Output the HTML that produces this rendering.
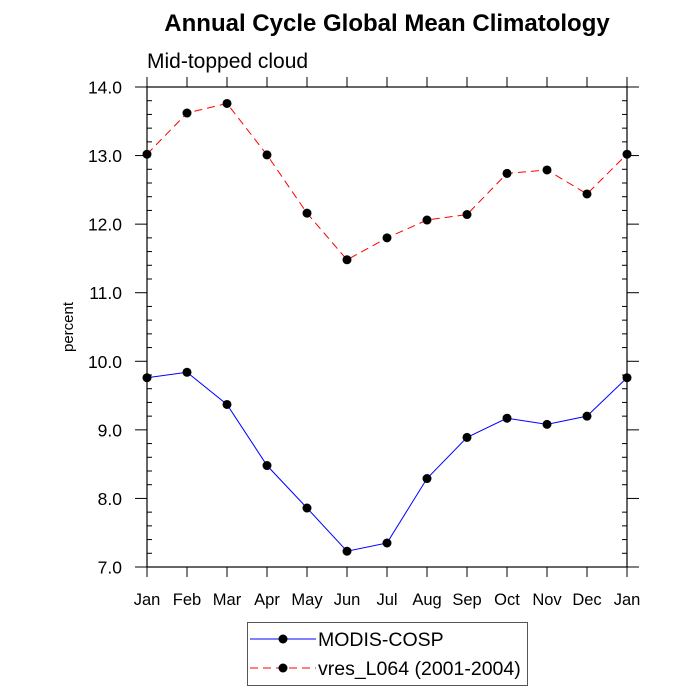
<!DOCTYPE html>
<html><head><meta charset="utf-8"><style>
body{margin:0;background:#fff}
svg{display:block;font-family:"Liberation Sans",sans-serif}
</style></head><body>
<svg id="c" width="700" height="700">
<text x="387" y="31" text-anchor="middle" font-size="24" font-weight="bold">Annual Cycle Global Mean Climatology</text>
<text x="147" y="68" font-size="21">Mid-topped cloud</text>
<text transform="translate(73,327) rotate(-90)" text-anchor="middle" font-size="15">percent</text>
<g id="axes"></g>
<g id="marks"></g>
<g>
<rect x="247.5" y="622.5" width="280" height="63" fill="#fff" stroke="#555"/>
<g>
<line x1="250" y1="639" x2="316" y2="639" stroke="#00f" stroke-width="1"/>
<circle cx="283" cy="639" r="4.5" fill="#000"/>
<text x="318" y="646" font-size="19.5">MODIS-COSP</text></g>
<g>
<line x1="250" y1="668" x2="316" y2="668" stroke="#f00" stroke-width="1" stroke-dasharray="8,5"/>
<circle cx="283" cy="668" r="4.5" fill="#000"/>
<text x="318" y="675" font-size="19.5">vres_L064 (2001-2004)</text></g>
</g>
</svg>
<script>
const months=["Jan","Feb","Mar","Apr","May","Jun","Jul","Aug","Sep","Oct","Nov","Dec","Jan"];
const modis=[9.76,9.84,9.37,8.48,7.86,7.23,7.35,8.29,8.89,9.17,9.08,9.20,9.76];
const vres=[13.02,13.62,13.76,13.01,12.16,11.48,11.80,12.06,12.14,12.74,12.79,12.44,13.02];
const yTicks=["7.0","8.0","9.0","10.0","11.0","12.0","13.0","14.0"];
const X0=147,X1=627,Y0=567,Y1=87,YMIN=7,YMAX=14;
const xs=i=>X0+(X1-X0)*i/(months.length-1);
const ys=v=>Y0-(Y0-Y1)*(v-YMIN)/(YMAX-YMIN);
const NS="http://www.w3.org/2000/svg";
function mk(p,t,a){const e=document.createElementNS(NS,t);for(const k in a)e.setAttribute(k,a[k]);p.appendChild(e);return e;}
const ax=document.getElementById('axes'),mg=document.getElementById('marks');
const frame=mk(ax,'rect',{x:X0,y:Y1,width:X1-X0,height:Y0-Y1,fill:'none',stroke:'#000','stroke-width':1.2});


months.forEach((m,i)=>{const x=xs(i);
mk(ax,'line',{x1:x,y1:Y0,x2:x,y2:Y0+10,stroke:'#000'});
mk(ax,'line',{x1:x,y1:Y1,x2:x,y2:Y1-10,stroke:'#000'});
const t=mk(ax,'text',{x:x,y:Y0+38,'text-anchor':'middle','font-size':16.5});t.textContent=m;

});
yTicks.forEach(s=>{const v=parseFloat(s),y=ys(v);
mk(ax,'line',{x1:X0-12,y1:y,x2:X0,y2:y,stroke:'#000'});
mk(ax,'line',{x1:X1,y1:y,x2:X1+12,y2:y,stroke:'#000'});
const t=mk(ax,'text',{x:X0-25,y:y+6.5,'text-anchor':'end','font-size':17.5});t.textContent=s;


if(v<YMAX)for(let k=1;k<5;k++){const yy=ys(v+k*0.2);
mk(ax,'line',{x1:X0,y1:yy,x2:X0+5,y2:yy,stroke:'#000'});
mk(ax,'line',{x1:X1-5,y1:yy,x2:X1,y2:yy,stroke:'#000'});}});
function series(d,col,dash,name){
const pl=mk(mg,'polyline',{points:d.map((v,i)=>xs(i)+','+ys(v)).join(' '),fill:'none',stroke:col,'stroke-width':1,'stroke-dasharray':dash});


d.forEach((v,i)=>{const c=mk(mg,'circle',{cx:xs(i),cy:ys(v),r:4.5,fill:'#000'});

});}
series(vres,'#f00','8,5','vres');
series(modis,'#00f','none','modis');
</script>
</body></html>
